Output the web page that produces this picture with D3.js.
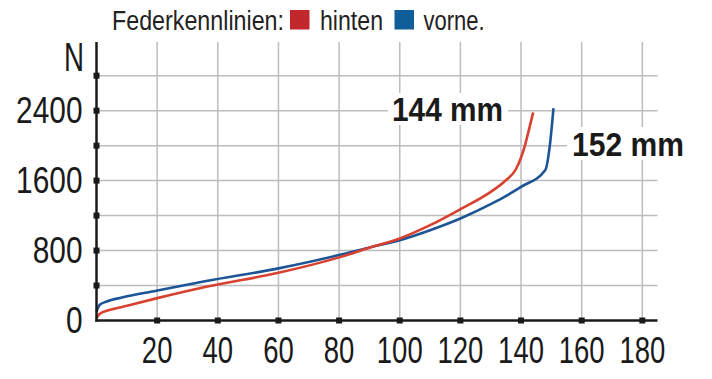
<!DOCTYPE html>
<html><head><meta charset="utf-8">
<script src="https://cdn.jsdelivr.net/npm/d3@7"></script>
<style>html,body{margin:0;padding:0;background:#fff;}svg{display:block;}</style>
</head><body>
<svg id="c" width="712" height="379"></svg>
<script>
// Data
const hintenX = [0, 1, 4.3, 8.7, 19.7, 36.2, 60, 80, 90, 100, 110, 120, 130, 135, 138.3, 141.3, 142.7, 144];
const hintenN = [25, 74, 120, 158, 253, 386, 546, 722, 832, 938, 1090, 1273, 1471, 1604, 1730, 2004, 2195, 2380];
const vorneX = [0, 1, 3.2, 8.7, 19.7, 36.2, 60, 80, 90, 100, 110, 120, 130, 140, 148, 149.5, 150.7];
const vorneN = [100, 177, 215, 265, 340, 451, 596, 748, 836, 919, 1033, 1167, 1330, 1528, 1722, 2004, 2430];
const xTicks = [20, 40, 60, 80, 100, 120, 140, 160, 180];
const yGrid = [400, 800, 1200, 1600, 2000, 2400, 2800];
const yLabels = [0, 800, 1600, 2400];
const legendItems = ["hinten", "vorne."];
const endLabels = ["144 mm", "152 mm"];

const colRed = "#d8402f", colBlue = "#1d5495";
const legRed = "#c1272d", legBlue = "#0f5d99";
const font = "'Liberation Sans',Arial,sans-serif";

const svg = d3.select("#c");
const x = d3.scaleLinear().domain([0, 185]).range([96.5, 657.5]);
const y = d3.scaleLinear().domain([0, 2800]).range([320.5, 75.7]);
const plotTop = 42;
const digitW = 15.3;

// grid
svg.append("g").selectAll("line").data(yGrid).join("line")
  .attr("x1", x(0)).attr("x2", x(185)).attr("y1", d => y(d)).attr("y2", d => y(d))
  .attr("stroke", "#bdbdbd").attr("stroke-width", 1.5);
svg.append("g").selectAll("line").data(xTicks).join("line")
  .attr("x1", d => x(d)).attr("x2", d => x(d)).attr("y1", plotTop).attr("y2", y(0))
  .attr("stroke", "#bdbdbd").attr("stroke-width", 1.5);

// lines
const line = d3.line().x(d => x(d[0])).y(d => y(d[1])).curve(d3.curveMonotoneX);
svg.append("path").datum(vorneX.map((v, i) => [v, vorneN[i]]))
  .attr("d", line).attr("fill", "none").attr("stroke", colBlue).attr("stroke-width", 2.6).attr("stroke-linejoin", "round");
svg.append("path").datum(hintenX.map((v, i) => [v, hintenN[i]]))
  .attr("d", line).attr("fill", "none").attr("stroke", colRed).attr("stroke-width", 2.6).attr("stroke-linejoin", "round");

// axes
svg.append("line").attr("x1", x(0)).attr("x2", x(0)).attr("y1", plotTop).attr("y2", y(0) + 1.2)
  .attr("stroke", "#1a1a1a").attr("stroke-width", 2.5);
svg.append("line").attr("x1", x(0) - 1.2).attr("x2", x(185)).attr("y1", y(0)).attr("y2", y(0))
  .attr("stroke", "#1a1a1a").attr("stroke-width", 2.5);
svg.append("g").selectAll("rect").data(xTicks).join("rect")
  .attr("x", d => x(d) - 3).attr("y", y(0) - 3).attr("width", 6).attr("height", 6).attr("fill", "#1a1a1a");
svg.append("g").selectAll("rect").data(yGrid).join("rect")
  .attr("x", x(0) - 3).attr("y", d => y(d) - 3).attr("width", 6).attr("height", 6).attr("fill", "#1a1a1a");

// tick labels
svg.append("g").selectAll("text").data(xTicks).join("text")
  .attr("x", d => x(d)).attr("y", 362.5).attr("text-anchor", "middle")
  .attr("font-family", font).attr("font-size", 36).attr("fill", "#1a1a1a")
  .attr("textLength", d => String(d).length * digitW).attr("lengthAdjust", "spacingAndGlyphs").text(d => d);
svg.append("g").selectAll("text").data(yLabels).join("text")
  .attr("x", 82.5).attr("y", d => y(d) + 12.5).attr("text-anchor", "end")
  .attr("font-family", font).attr("font-size", 36).attr("fill", "#1a1a1a")
  .attr("textLength", d => String(d).length * 16.6).attr("lengthAdjust", "spacingAndGlyphs").text(d => d);
svg.append("text").attr("x", 84).attr("y", 70.7).attr("text-anchor", "end")
  .attr("font-family", font).attr("font-size", 40).attr("fill", "#1a1a1a")
  .attr("textLength", 20).attr("lengthAdjust", "spacingAndGlyphs").text("N");

// end labels
const endPos = [[388, 93, 120, 32, 392, 121, 111], [567, 127, 125, 33, 572, 156, 112]];
endLabels.forEach((t, i) => {
  const p = endPos[i];
  svg.append("rect").attr("x", p[0]).attr("y", p[1]).attr("width", p[2]).attr("height", p[3]).attr("fill", "#fff");
  svg.append("text").attr("x", p[4]).attr("y", p[5]).attr("font-family", font).attr("font-weight", "bold")
    .attr("font-size", 33).attr("fill", "#1a1a1a").attr("textLength", p[6]).attr("lengthAdjust", "spacingAndGlyphs").text(t);
});

// legend
svg.append("text").attr("x", 112).attr("y", 29.5).attr("font-family", font).attr("font-size", 27)
  .attr("fill", "#222").attr("textLength", 172).attr("lengthAdjust", "spacingAndGlyphs").text("Federkennlinien:");
const legPos = [[290, legRed, 320, 63], [394.5, legBlue, 423.5, 61]];
legendItems.forEach((t, i) => {
  const p = legPos[i];
  svg.append("rect").attr("x", p[0]).attr("y", 10).attr("width", 19.5).attr("height", 19.5).attr("fill", p[1]);
  svg.append("text").attr("x", p[2]).attr("y", 29.5).attr("font-family", font).attr("font-size", 27)
    .attr("fill", "#222").attr("textLength", p[3]).attr("lengthAdjust", "spacingAndGlyphs").text(t);
});
</script>
</body></html>
